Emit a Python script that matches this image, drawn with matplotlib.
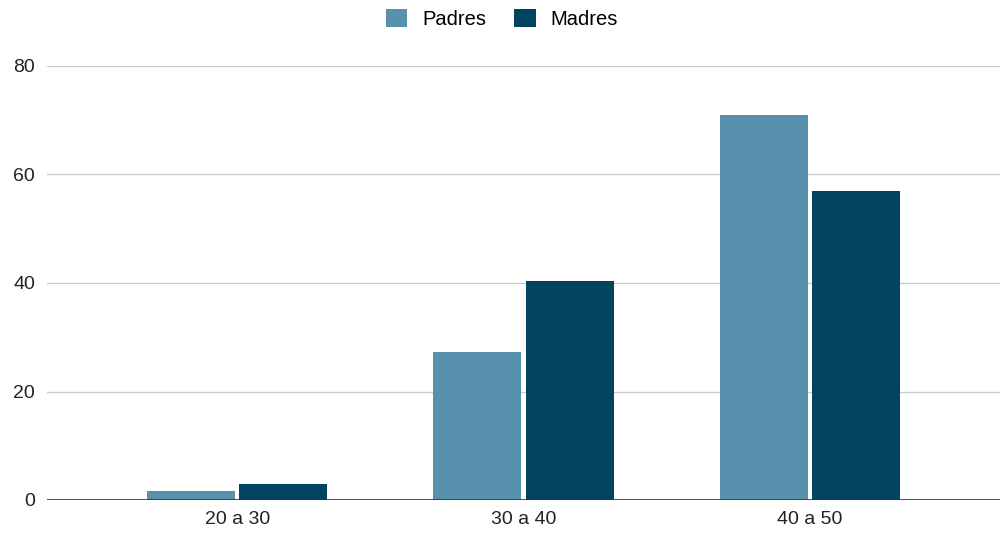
import matplotlib
matplotlib.use("Agg")
import matplotlib.pyplot as plt
import numpy as np

categories = ["20 a 30", "30 a 40", "40 a 50"]
padres = [1.7, 27.3, 71.0]
madres = [3.0, 40.4, 57.0]
yticks = [0, 20, 40, 60, 80]

plt.rcParams['font.family'] = ['Liberation Sans', 'DejaVu Sans']

fig = plt.figure(figsize=(10.04, 5.39), dpi=100)
ax = fig.add_axes([47/1004, 1-500/539, (1000-47)/1004, (500-66)/539])

x = np.arange(len(categories))
w = 0.308
off = 0.161
ax.bar(x - off, padres, w, color="#5891ad", label="Padres", zorder=3)
ax.bar(x + off, madres, w, color="#00445f", label="Madres", zorder=3)

ax.set_xlim(-0.664, 2.664)
ax.set_ylim(0, 80)
ax.set_yticks(yticks)
ax.set_xticks(x)
ax.set_xticklabels(categories)
ax.grid(axis='y', color='#cccccc', linewidth=1, zorder=0)
ax.axhline(0, color='#333333', linewidth=1.2, zorder=4)
for s in ax.spines.values():
    s.set_visible(False)
ax.tick_params(axis='both', length=0, labelsize=14, colors='#222222')
ax.tick_params(axis='y', pad=8.5)
ax.tick_params(axis='x', pad=8)

fig.legend(loc='center', bbox_to_anchor=(0.5, 1 - 19/539), ncol=2, frameon=False,
           fontsize=14.5, handlelength=1.05, handleheight=1.0, columnspacing=1.4,
           handletextpad=0.75, borderpad=0)

fig.savefig("out.png", dpi=100)
